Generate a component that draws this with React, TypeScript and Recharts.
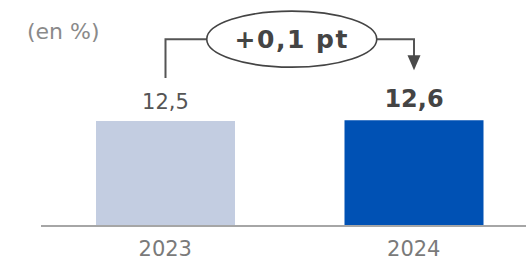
import { BarChart, Bar, XAxis, YAxis, Cell, LabelList } from "recharts";

const categories = ["2023", "2024"];
const values = [12.5, 12.6];
const valueLabels = ["12,5", "12,6"];
const barColors = ["#c3cde1", "#0051b4"];
const deltaLabel = "+0,1 pt";
const unitLabel = "(en %)";

const FONT = "'DejaVu Sans', sans-serif";

const data = categories.map((year, i) => ({
  year,
  value: values[i],
  label: valueLabels[i],
}));

function YearTick({ x, y, payload }: any) {
  return (
    <text x={x} y={y} dy={22} textAnchor="middle" fontSize={21} fill="#7a7a7a" fontFamily={FONT}>
      {payload.value}
    </text>
  );
}

export default function App() {
  // bar tops collected while labels render, used for the delta bracket
  const tops: { x: number; y: number }[] = [];

  const renderLabel = (props: any) => {
    const vb = props.viewBox ?? props;
    const x = Number(vb.x ?? props.x);
    const y = Number(vb.y ?? props.y);
    const w = Number(vb.width ?? props.width);
    const index = props.index as number;
    const cx = x + w / 2;
    tops[index] = { x: cx, y };
    const last = index === data.length - 1;
    const text = (
      <text
        x={cx}
        y={y - (last ? 13 : 12)}
        textAnchor="middle"
        fontFamily={FONT}
        fontSize={last ? 24 : 21}
        fontWeight={last ? 700 : 400}
        fill={last ? "#444" : "#555"}
      >
        {data[index].label}
      </text>
    );
    if (!last || !tops[0]) return text;

    const p0 = tops[0];
    const p1 = tops[index];
    const lineY = Math.min(p0.y, p1.y) - 81;
    const midX = (p0.x + p1.x) / 2 + 2;
    const rx = 85;
    const ry = 28;
    return (
      <g>
        {text}
        <path
          d={`M${p0.x},${p0.y - 43} V${lineY} H${midX - rx}`}
          fill="none"
          stroke="#555"
          strokeWidth={2}
        />
        <path
          d={`M${midX + rx},${lineY} H${p1.x} V${p1.y - 62}`}
          fill="none"
          stroke="#555"
          strokeWidth={2}
        />
        <path
          d={`M${p1.x - 6.5},${p1.y - 65} L${p1.x + 6.5},${p1.y - 65} L${p1.x},${p1.y - 50} Z`}
          fill="#4a4a4a"
        />
        <ellipse cx={midX} cy={lineY} rx={rx} ry={ry} fill="#fff" stroke="#444" strokeWidth={1.6} />
        <text
          x={midX}
          y={lineY + 9}
          textAnchor="middle"
          fontFamily={FONT}
          fontSize={25}
          fontWeight={700}
          letterSpacing={1.5}
          fill="#444"
        >
          {deltaLabel}
        </text>
      </g>
    );
  };

  return (
    <div style={{ position: "absolute", left: 0, top: 0, width: 526, height: 260, overflow: "hidden", background: "#fff" }}>
      <div style={{ position: "relative" }}>
        <span
          style={{
            position: "absolute",
            left: 27,
            top: 19,
            fontFamily: FONT,
            fontSize: 22,
            color: "#8a8a8a",
            whiteSpace: "nowrap",
          }}
        >
          {unitLabel}
        </span>
        <BarChart width={538} height={260} data={data} margin={{ top: 16, right: 0, left: 41, bottom: 4 }}>
          <XAxis
            dataKey="year"
            height={30}
            tickLine={false}
            axisLine={{ stroke: "#a6a6a6", strokeWidth: 2 }}
            tick={<YearTick />}
            interval={0}
          />
          <YAxis hide domain={[0, 25]} />
          <Bar dataKey="value" barSize={139} isAnimationActive={false}>
            {data.map((d, i) => (
              <Cell key={d.year} fill={barColors[i]} />
            ))}
            <LabelList dataKey="value" content={renderLabel} />
          </Bar>
        </BarChart>
      </div>
    </div>
  );
}
